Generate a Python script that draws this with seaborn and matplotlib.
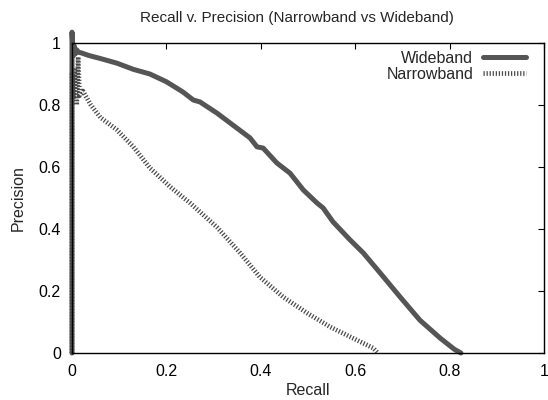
import matplotlib
matplotlib.use("Agg")
import matplotlib.pyplot as plt
import seaborn as sns
import pandas as pd

# Precision/recall curves for the two front-ends
wide_recall = [0.0, 0.0, 0.0, 0.003, 0.005, 0.007, 0.010, 0.014, 0.020, 0.035,
               0.060, 0.095, 0.130, 0.165, 0.200, 0.235, 0.257, 0.271, 0.307,
               0.335, 0.377, 0.392, 0.405, 0.434, 0.462, 0.490, 0.519, 0.532,
               0.553, 0.589, 0.617, 0.653, 0.695, 0.737, 0.780, 0.810, 0.824]
wide_precision = [0.0, 0.95, 1.035, 0.96, 0.99, 0.965, 0.978, 0.970, 0.968, 0.960,
                  0.950, 0.935, 0.915, 0.900, 0.875, 0.842, 0.816, 0.810, 0.774,
                  0.742, 0.694, 0.665, 0.661, 0.613, 0.580, 0.526, 0.484, 0.468,
                  0.423, 0.365, 0.323, 0.258, 0.181, 0.106, 0.048, 0.012, 0.0]

narrow_recall = [0.0, 0.0, 0.003, 0.005, 0.007, 0.010, 0.013, 0.016, 0.023,
                 0.040, 0.060, 0.095, 0.130, 0.165, 0.208, 0.250, 0.307, 0.356,
                 0.398, 0.447, 0.498, 0.547, 0.595, 0.638, 0.648]
narrow_precision = [0.0, 0.90, 0.82, 0.92, 0.84, 0.80, 0.955, 0.83, 0.845,
                    0.80, 0.760, 0.720, 0.665, 0.597, 0.536, 0.484, 0.406, 0.323,
                    0.245, 0.181, 0.129, 0.084, 0.048, 0.016, 0.0]

x_ticks = [0, 0.2, 0.4, 0.6, 0.8, 1]
y_ticks = [0, 0.2, 0.4, 0.6, 0.8, 1]
tick_labels = ["0", "0.2", "0.4", "0.6", "0.8", "1"]

sns.set_style("white")
plt.rcParams["font.family"] = ["Liberation Sans", "DejaVu Sans"]
plt.rcParams["lines.scale_dashes"] = False

wide = pd.DataFrame({"Recall": wide_recall, "Precision": wide_precision})
narrow = pd.DataFrame({"Recall": narrow_recall, "Precision": narrow_precision})

fig = plt.figure(figsize=(5.48, 4.0), dpi=100)
ax = fig.add_axes([72 / 548, 47 / 400, (544 - 72) / 548, (353 - 43) / 400])

line_color = "#555555"
sns.lineplot(data=wide, x="Recall", y="Precision", sort=False, estimator=None,
             ax=ax, color=line_color, linewidth=3.6, label="Wideband",
             clip_on=False)
sns.lineplot(data=narrow, x="Recall", y="Precision", sort=False, estimator=None,
             ax=ax, color="#4a4a4a", linewidth=3.4, label="Narrowband",
             dashes=False, clip_on=False)
ax.lines[1].set_dashes((0.9, 1.3))
ax.lines[1].set_dash_capstyle("butt")

ax.set_xlim(0, 1)
ax.set_ylim(0, 1)
ax.set_xticks(x_ticks)
ax.set_xticklabels(tick_labels)
ax.set_yticks(y_ticks)
ax.set_yticklabels(tick_labels)
ax.tick_params(direction="in", length=4, width=0.8, top=True, right=True,
               labelsize=11.5, colors="black", pad=8)
for s in ax.spines.values():
    s.set_visible(True)
    s.set_color("black")
    s.set_linewidth(1.0)

ax.set_xlabel("Recall", fontsize=11.5, labelpad=3)
ax.set_ylabel("Precision", fontsize=11.5, labelpad=9)
fig.text(297 / 548, 1 - 18 / 400, "Recall v. Precision (Narrowband vs Wideband)",
         ha="center", va="center", fontsize=11)

leg = ax.legend(loc="upper right", frameon=False, markerfirst=False,
                fontsize=11.5, handlelength=2.7, handletextpad=0.6,
                labelspacing=0.05, borderpad=0, borderaxespad=0,
                bbox_to_anchor=((526 - 72) / 472, (353 - 51) / 310))
for t in leg.get_texts():
    t.set_ha("right")

fig.savefig("out.png", dpi=100)
